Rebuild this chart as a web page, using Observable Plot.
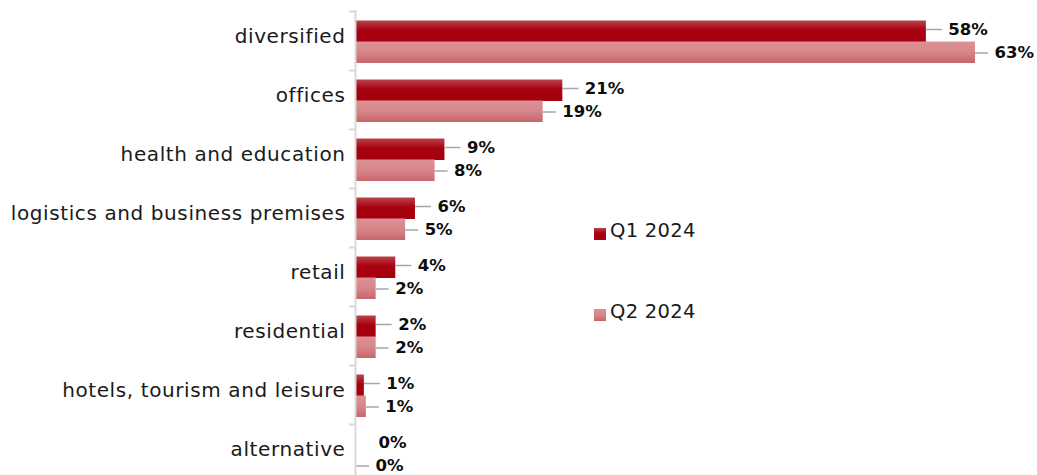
<!DOCTYPE html>
<html>
<head>
<meta charset="utf-8">
<script src="https://cdn.jsdelivr.net/npm/d3@7"></script>
<script src="https://cdn.jsdelivr.net/npm/@observablehq/plot@0.6"></script>
<style>
  html, body { margin: 0; padding: 0; background: #fff; }
  #wrap { position: relative; width: 1037px; height: 475px; overflow: hidden; font-family: "DejaVu Sans", sans-serif; }
  #wrap svg { display: block; }
  #wrap svg g[aria-label="y-axis tick label"] { letter-spacing: 0.6px; }
  .legend { position: absolute; left: 594px; font-size: 19.5px; color: #1a1a1a; display: flex; align-items: center; gap: 4px; letter-spacing: 0.3px; }
  .legend .sw { width: 12px; height: 12px; display: inline-block; }
</style>
</head>
<body>
<div id="wrap"></div>
<script>
const categories = ["diversified", "offices", "health and education", "logistics and business premises", "retail", "residential", "hotels, tourism and leisure", "alternative"];
const seriesNames = ["Q1 2024", "Q2 2024"];
const q1Values = [58, 21, 9, 6, 4, 2, 0.8, 0];
const q2Values = [63, 19, 8, 5, 2, 2, 1, 0];
const q1Labels = ["58%", "21%", "9%", "6%", "4%", "2%", "1%", "0%"];
const q2Labels = ["63%", "19%", "8%", "5%", "2%", "2%", "1%", "0%"];

const W = 1037, H = 475;
const mLeft = 356, mRight = 62;
const xMax = 63;
const k = (W - mLeft - mRight) / xMax; // px per unit

const q1 = categories.map((c, i) => ({cat: c, value: q1Values[i], label: q1Labels[i]}));
const q2 = categories.map((c, i) => ({cat: c, value: q2Values[i], label: q2Labels[i]}));

const plot = Plot.plot({
  width: W,
  height: H,
  marginLeft: mLeft,
  marginRight: mRight,
  marginTop: 10,
  marginBottom: 0,
  style: {fontFamily: "DejaVu Sans, sans-serif", background: "#fff", overflow: "visible"},
  x: {domain: [0, xMax], axis: null},
  y: {domain: categories, range: [10.5, 482.5], padding: 0, axis: null},
  marks: [
    // category tick marks at band edges
    Plot.axisY({tickSize: 7, text: null, label: null, dy: -29.5, stroke: "#d9d9d9", strokeWidth: 2}),
    // category labels
    Plot.axisY({tickSize: 0, tickPadding: 11, fontSize: 20, fill: "#1a1a1a", label: null, dy: -4}),
    // bars
    Plot.barX(q1, {x: "value", y: "cat", fill: "url(#gradQ1)", insetTop: 9.5, insetBottom: 28}),
    Plot.barX(q2, {x: "value", y: "cat", fill: "url(#gradQ2)", insetTop: 30.5, insetBottom: 7}),
    // leader lines
    Plot.ruleY(q1.filter(d => d.value > 0), {y: "cat", x1: "value", x2: d => d.value + 16 / k, dy: -11.5, stroke: "#a6a6a6", strokeWidth: 1.5}),
    Plot.ruleY(q2, {y: "cat", x1: "value", x2: d => d.value + 13 / k, dy: 12, stroke: "#a6a6a6", strokeWidth: 1.5}),
    // value labels
    Plot.text(q1, {x: "value", y: "cat", text: "label", dx: 22, dy: -11.5, textAnchor: "start", fontWeight: "bold", fontSize: 16.5, fill: "#0d0d0d"}),
    Plot.text(q2, {x: "value", y: "cat", text: "label", dx: 19, dy: 12, textAnchor: "start", fontWeight: "bold", fontSize: 16.5, fill: "#0d0d0d"}),
    // vertical axis line
    Plot.ruleX([0], {stroke: "#d9d9d9", strokeWidth: 2, dx: -1})
  ]
});

// gradients for the bars
const svg = d3.select(plot);
const defs = svg.insert("defs", ":first-child");
const g1 = defs.append("linearGradient").attr("id", "gradQ1").attr("x1", 0).attr("y1", 0).attr("x2", 0).attr("y2", 1);
g1.append("stop").attr("offset", "0%").attr("stop-color", "#b9434b");
g1.append("stop").attr("offset", "45%").attr("stop-color", "#a8000f");
g1.append("stop").attr("offset", "100%").attr("stop-color", "#a50010");
const g2 = defs.append("linearGradient").attr("id", "gradQ2").attr("x1", 0).attr("y1", 0).attr("x2", 0).attr("y2", 1);
g2.append("stop").attr("offset", "0%").attr("stop-color", "#dc9296");
g2.append("stop").attr("offset", "50%").attr("stop-color", "#d6868a");
g2.append("stop").attr("offset", "100%").attr("stop-color", "#c6656c");

const wrap = document.getElementById("wrap");
wrap.appendChild(plot);

// legend
const legendColors = ["linear-gradient(#b9434b, #a8000f 45%, #a50010)", "linear-gradient(#dc9296, #d6868a 50%, #c6656c)"];
const legendTops = [219, 300];
seriesNames.forEach((name, i) => {
  const item = document.createElement("div");
  item.className = "legend";
  item.style.top = legendTops[i] + "px";
  const sw = document.createElement("span");
  sw.className = "sw";
  sw.style.background = legendColors[i];
  sw.style.marginTop = "6px";
  item.appendChild(sw);
  const t = document.createElement("span");
  t.textContent = name;
  item.appendChild(t);
  wrap.appendChild(item);
});
</script>
</body>
</html>
